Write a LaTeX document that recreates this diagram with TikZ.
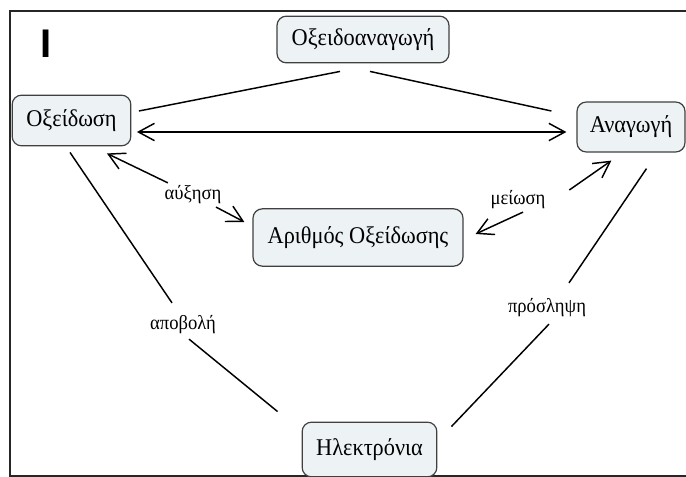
\documentclass[tikz,border=0pt]{standalone}
\usepackage{fontspec}
\setmainfont[FakeStretch=0.93]{Liberation Serif}
\setsansfont{Liberation Sans}
\usetikzlibrary{arrows.meta}

\definecolor{conceptfill}{RGB}{237,242,245}

\begin{document}
\begin{tikzpicture}[x=0.75pt, y=-0.75pt, >={Straight Barb[length=12pt, width=13pt]},
    every node/.style={font=\fontsize{18}{20}\selectfont}]

\tikzset{
    concept/.style={draw=black!75, fill=conceptfill, rounded corners=7pt, line width=0.9pt, inner sep=0pt},
    linkword/.style={font=\fontsize{15}{17}\selectfont, inner sep=2pt},
    link/.style={line width=1.1pt},
    frame/.style={line width=1.5pt, draw=black!85}
}

\useasboundingbox (0,0) rectangle (686,477);
\clip (0,0) rectangle (686,477);

\draw[frame] (10,11) rectangle (700,476);
\node[font=\sffamily\bfseries\fontsize{30}{30}\selectfont] (mark) at (46,43.5) {I};

% concepts
\node[concept, minimum width=129pt, minimum height=35pt] (redox) at (363,39.5) {Οξειδοαναγωγή};
\node[concept, minimum width=89pt, minimum height=38pt] (ox) at (71.5,120.5) {Οξείδωση};
\node[concept, minimum width=81pt, minimum height=37.5pt] (red) at (631,127) {Αναγωγή};
\node[concept, minimum width=157.5pt, minimum height=43pt] (num) at (358,237.5) {Αριθμός Οξείδωσης};
\node[concept, minimum width=101pt, minimum height=41pt] (el) at (369.5,449.5) {Ηλεκτρόνια};

% linking words
\node[linkword] (aux) at (193,195) {αύξηση};
\node[linkword] (mei) at (518,200) {μείωση};
\node[linkword] (apo) at (183,325) {αποβολή};
\node[linkword] (pros) at (547,308) {πρόσληψη};

\draw[link] ([shift={(7.5,-9.5)}]ox.east) -- ([shift={(-23,8)}]redox.south);
\draw[link] ([shift={(7,8)}]redox.south) -- ([shift={(-25,-16)}]red.west);
\draw[link, <->] ([shift={(5.5,11.5)}]ox.east) -- ([shift={(-10,5)}]red.west);

\draw[link, ->] (aux) -- ([shift={(-24.5,7)}]ox.south east);
\draw[link, ->] (aux) -- ([shift={(-8,-15.5)}]num.west);
\draw[link, ->] ([shift={(21,-10)}]mei.east) -- ([shift={(35,8)}]red.south west);
\draw[link, ->] ([shift={(5,0)}]mei.south) -- ([shift={(12,-3.5)}]num.east);

\draw[link] ([shift={(-1.5,6)}]ox.south) -- ([shift={(-11,-10)}]apo.north);
\draw[link] ([shift={(6,2)}]apo.south) -- ([shift={(-24,-10)}]el.north west);
\draw[link] ([shift={(15.5,16)}]red.south) -- ([shift={(22,-13)}]pros.north);
\draw[link] ([shift={(2,4)}]pros.south) -- ([shift={(14,5)}]el.north east);

\end{tikzpicture}
\end{document}
